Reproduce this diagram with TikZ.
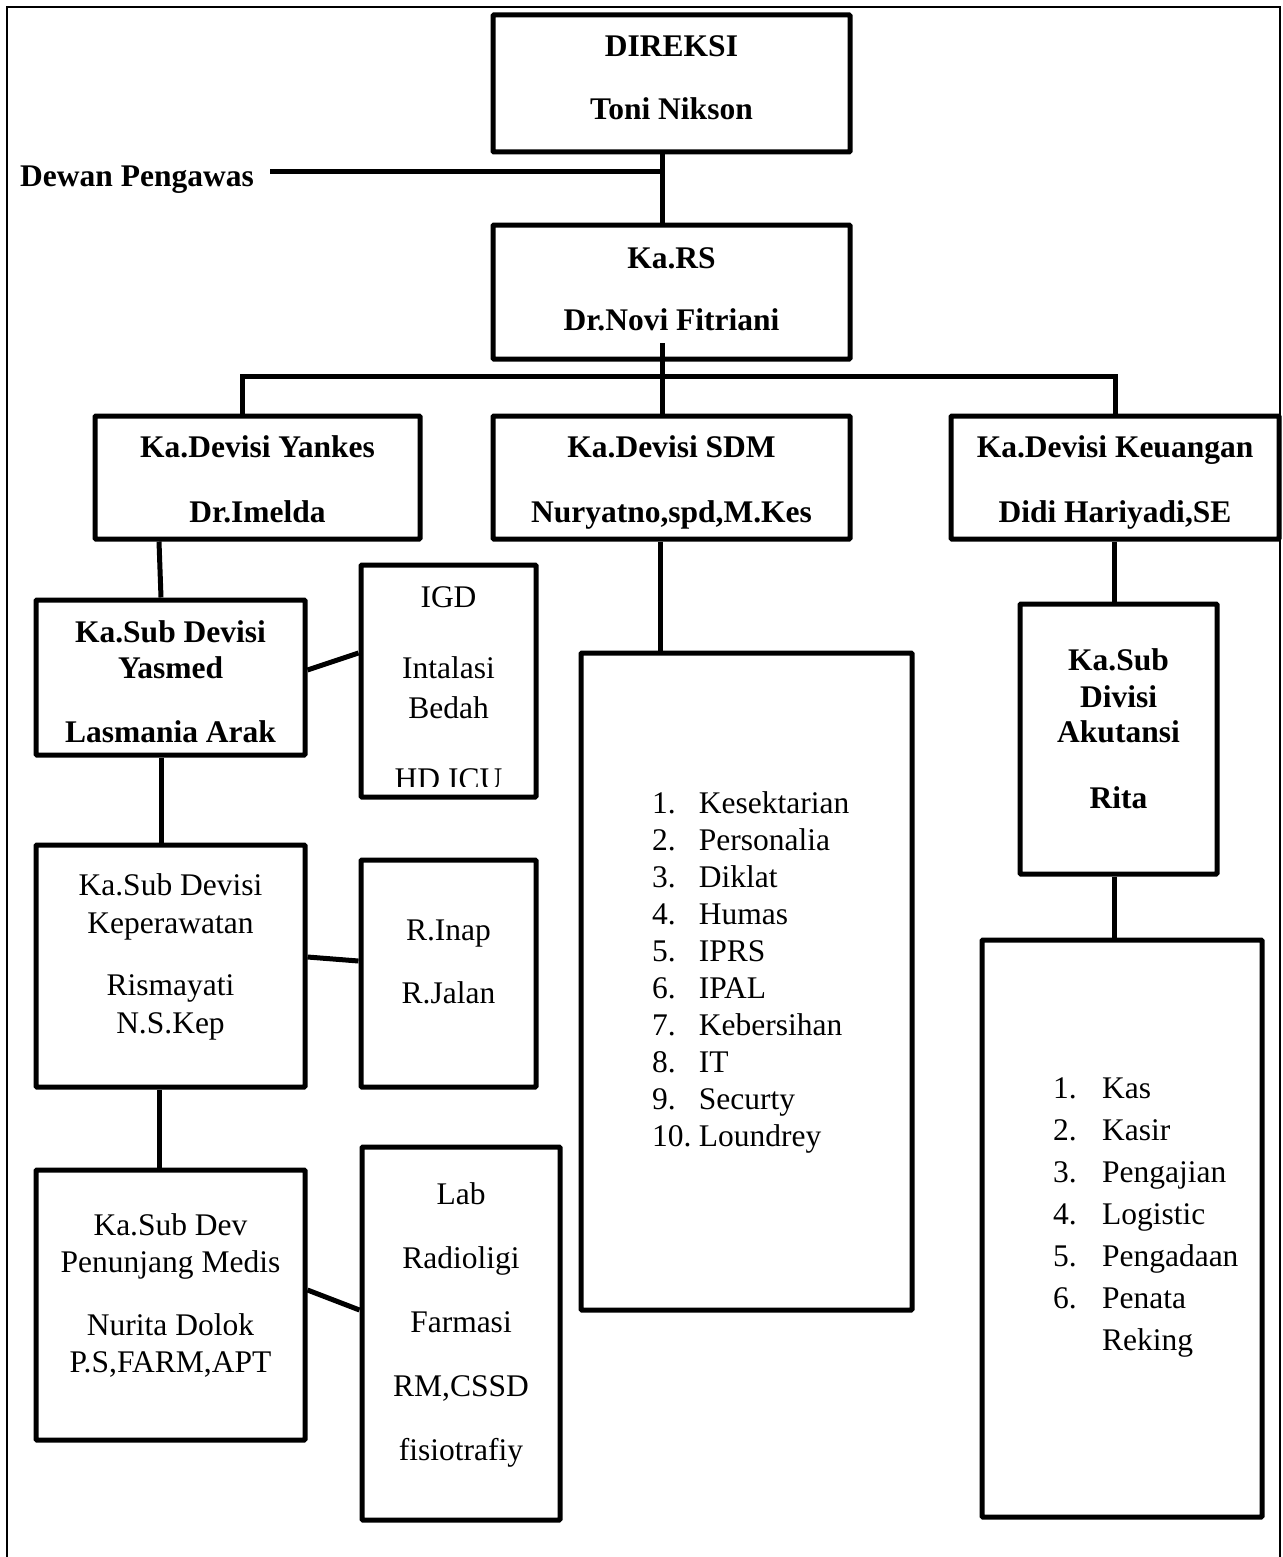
\documentclass[tikz,border=0pt]{standalone}
\usepackage{fontspec}
\setmainfont{Liberation Serif}
\newcommand\ctext[2]{\makebox[0pt][c]{\raisebox{#1}[0pt][0pt]{\begin{tabular}[b]{@{}c@{}}#2\end{tabular}}}}
\newcommand\ltext[4]{\makebox[0pt][l]{\hspace*{#1}\raisebox{#2}[0pt][0pt]{\begin{tabular}[b]{@{}l@{\hspace{#3}}l@{}}#4\end{tabular}}}}
\tikzset{
  sz/.style 2 args={minimum width=#1pt, minimum height=#2pt},
  rbox/.style={draw, line width=5pt, rounded corners=1pt, inner sep=0pt,
    font=\fontsize{31.5}{37}\selectfont},
  bbox/.style={rbox, font=\fontsize{31.5}{37}\selectfont\bfseries},
  txt/.style={inner sep=0pt, font=\fontsize{31.5}{37}\selectfont},
  conn/.style={line width=5pt},
  frame/.style={line width=2.5pt}
}
\begin{document}
\begin{tikzpicture}[x=1pt,y=-1pt]
\useasboundingbox (0,0) rectangle (1282,1557);
\draw[frame] (7,1557) -- (7,7) -- (1280,7) -- (1280,1557);

% top level
\node[bbox, sz={357}{137}] (direksi) at (671.5,83.5) {\ctext{-36.5pt}{DIREKSI\\[26pt]Toni Nikson}};
\node[bbox, sz={357}{134}] (kars) at (671.5,292) {\ctext{-38pt}{Ka.RS\\[25pt]Dr.Novi Fitriani}};
\node[txt, anchor=base west, font=\fontsize{31.5}{37}\selectfont\bfseries] (dewan) at (20,187) {Dewan Pengawas};

% divisions
\node[bbox, sz={325}{123}] (yankes) at (257.5,477.5) {\ctext{-44.5pt}{Ka.Devisi Yankes\\[28pt]Dr.Imelda}};
\node[bbox, sz={357}{123}] (sdm) at (671.5,477.5) {\ctext{-44.5pt}{Ka.Devisi SDM\\[28pt]Nuryatno,spd,M.Kes}};
\node[bbox, sz={328}{123}] (keu) at (1115,477.5) {\ctext{-44.5pt}{Ka.Devisi Keuangan\\[28pt]Didi Hariyadi,SE}};

% Yankes branch
\node[bbox, sz={269}{155}] (yasmed) at (170.5,677.5) {\ctext{-64.5pt}{Ka.Sub Devisi\\[-1pt]Yasmed\\[27pt]Lasmania Arak}};
\node[rbox, sz={175}{232}] (igd) at (448.5,681) {};
\begin{scope}
  \clip (361,565) rectangle (536,786);
  \node[txt] (igdtext) at (igd.center) {\ctext{-108pt}{IGD\\[34pt]Intalasi\\[3pt]Bedah\\[34pt]HD ICU}};
\end{scope}
\node[rbox, sz={269}{242}] (keper) at (170.5,966) {\ctext{-67pt}{Ka.Sub Devisi\\[1pt]Keperawatan\\[25pt]Rismayati\\[1pt]N.S.Kep}};
\node[rbox, sz={175}{227}] (rinap) at (448.5,973.5) {\ctext{-29.5pt}{R.Inap\\[26pt]R.Jalan}};
\node[rbox, sz={269}{270}] (penunjang) at (170.5,1305) {\ctext{-67pt}{Ka.Sub Dev\\[0pt]Penunjang Medis\\[26pt]Nurita Dolok\\[0pt]P.S,FARM,APT}};
\node[rbox, sz={198}{373}] (lab) at (461,1333.5) {\ctext{-126.5pt}{Lab\\[27pt]Radioligi\\[27pt]Farmasi\\[27pt]RM,CSSD\\[27pt]fisiotrafiy}};

% SDM branch
\node[rbox, sz={331}{657}] (sdmlist) at (746.5,981.5) {\ltext{-94.5pt}{-164.5pt}{7.6pt}{1.&Kesektarian\\2.&Personalia\\3.&Diklat\\4.&Humas\\5.&IPRS\\6.&IPAL\\7.&Kebersihan\\8.&IT\\9.&Securty\\10.&Loundrey}};

% Keuangan branch
\node[bbox, sz={197}{270}] (akut) at (1118.5,739) {\ctext{-69pt}{Ka.Sub\\Divisi\\[-2pt]Akutansi\\[29pt]Rita}};
\node[rbox, sz={280}{577}] (keulist) at (1122,1228.5) {\ltext{-69pt}{-121.5pt}{25.4pt}{1.&Kas\\[5pt]2.&Kasir\\[5pt]3.&Pengajian\\[5pt]4.&Logistic\\[5pt]5.&Pengadaan\\[5pt]6.&Penata\\[5pt]&Reking}};

% connectors
\coordinate (dl) at (270,172);
\coordinate (dj) at (662,172);
\coordinate (kin) at (662,343);
\coordinate (br) at (1115,376);
\draw[conn] ([xshift=-9.5pt]direksi.south) -- ([xshift=-9.5pt]kars.north);
\draw[conn] (dl) -- (dj);
\draw[conn] (kin) -- ([xshift=-9.5pt]sdm.north);
\draw[conn] ([xshift=-15.5pt]yankes.north) |- (br) -- (keu.north);
\draw[conn] ([xshift=-98.5pt]yankes.south) -- ([xshift=-9.5pt]yasmed.north);
\draw[conn] ([yshift=7.5pt]yasmed.east) -- ([yshift=28pt]igd.west);
\draw[conn] ([xshift=-9.5pt]yasmed.south) -- ([xshift=-9.5pt]keper.north);
\draw[conn] ([yshift=9pt]keper.east) -- ([yshift=12.5pt]rinap.west);
\draw[conn] ([xshift=-11pt]keper.south) -- ([xshift=-11pt]penunjang.north);
\draw[conn] ([yshift=15pt]penunjang.east) -- ([yshift=23.5pt]lab.west);
\draw[conn] ([xshift=-11.5pt]sdm.south) -- ([xshift=-86.5pt]sdmlist.north);
\draw[conn] ([xshift=-1pt]keu.south) -- ([xshift=-4.5pt]akut.north);
\draw[conn] ([xshift=-4.5pt]akut.south) -- ([xshift=-8pt]keulist.north);
\end{tikzpicture}
\end{document}
